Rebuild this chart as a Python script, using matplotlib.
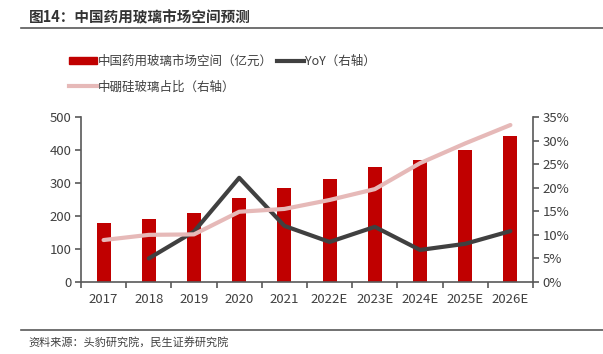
import matplotlib
matplotlib.use("Agg")
import matplotlib.pyplot as plt
from matplotlib.lines import Line2D
from matplotlib.patches import Patch
import numpy as np

plt.rcParams['font.family'] = ['Noto Sans CJK SC', 'DejaVu Sans']

years = ["2017", "2018", "2019", "2020", "2021", "2022E", "2023E", "2024E", "2025E", "2026E"]
market = [180, 190, 210, 255, 285, 311, 347, 370, 400, 443]
yoy = [None, 5.0, 10.7, 22.1, 11.9, 8.5, 11.7, 6.8, 8.1, 10.8]
boro_share = [8.9, 10.0, 10.1, 14.9, 15.5, 17.4, 19.7, 25.2, 29.4, 33.3]

title = "图14：中国药用玻璃市场空间预测"
source = "资料来源：头豹研究院，民生证券研究院"
lab_bar = "中国药用玻璃市场空间（亿元）"
lab_yoy = "YoY（右轴）"
lab_share = "中硼硅玻璃占比（右轴）"

W, H = 603, 354
fig = plt.figure(figsize=(W/100, H/100), dpi=100)
ax = fig.add_axes([81/W, 1-282/H, (533-81)/W, (282-117)/H])
ax2 = ax.twinx()

x = np.arange(len(years))
bar_c = "#C00000"
yoy_c = "#404040"
pink_c = "#E6B9B8"
axis_c = "#595959"
text_c = "#404040"

ax.bar(x, market, width=0.31, color=bar_c, zorder=2)
yx = [i for i, v in enumerate(yoy) if v is not None]
yv = [v for v in yoy if v is not None]
ax2.plot(yx, yv, color=yoy_c, lw=3, solid_capstyle='round', zorder=3)
ax2.plot(x, boro_share, color=pink_c, lw=3, solid_capstyle='round', zorder=4)

ax.set_xlim(-0.5, len(years)-0.5)
ax.set_ylim(0, 500)
ax.set_yticks(np.arange(0, 501, 100))
ax2.set_ylim(0, 35)
ax2.set_yticks(np.arange(0, 36, 5))
ax2.set_yticklabels([f"{v}%" for v in range(0, 36, 5)])

ax.set_xticks(x)
ax.set_xticklabels(years)
ax.set_xticks(np.arange(-0.5, len(years), 1), minor=True)
ax.tick_params(axis='x', which='major', length=0, pad=8, labelsize=9.5, colors=text_c)
ax.tick_params(axis='x', which='minor', length=4, width=1.2, color=axis_c, direction='out')
ax.tick_params(axis='y', length=4, width=1.2, color=axis_c, labelsize=9.5, labelcolor=text_c, pad=3)
ax2.tick_params(axis='y', length=4, width=1.2, color=axis_c, labelsize=9.5, labelcolor=text_c, pad=3)

for a in (ax, ax2):
    a.spines['top'].set_visible(False)
    for s in ('left', 'right', 'bottom'):
        a.spines[s].set_color(axis_c)
        a.spines[s].set_linewidth(1.2)
ax.spines['right'].set_visible(False)
ax2.spines['left'].set_visible(False)
ax2.spines['bottom'].set_visible(False)
ax.set_zorder(ax2.get_zorder() - 1)
ax.patch.set_visible(False)

handles = [Patch(color=bar_c),
           Line2D([0], [0], color=pink_c, lw=3),
           Line2D([0], [0], color=yoy_c, lw=3)]
labels = [lab_bar, lab_share, lab_yoy]
fig.legend(handles, labels, ncol=2, loc='upper left', bbox_to_anchor=(69/W, 1-55/H),
           frameon=False, fontsize=9, handlelength=2.2, handleheight=0.55,
           handletextpad=0.1, columnspacing=0.3, labelspacing=1.0,
           borderpad=0, borderaxespad=0, labelcolor=text_c)

fig.text(29/W, 1-17/H, title, fontsize=10.5, fontweight='bold', color="#333333", va='center')
fig.add_artist(Line2D([21/W, 1], [1-28/H, 1-28/H], color="#595959", lw=1.2))
fig.add_artist(Line2D([21/W, 1], [1-330/H, 1-330/H], color="#595959", lw=1.2))
fig.text(28/W, 1-342/H, source, fontsize=8, color=text_c, va='center')

fig.savefig("out.png", dpi=100)
